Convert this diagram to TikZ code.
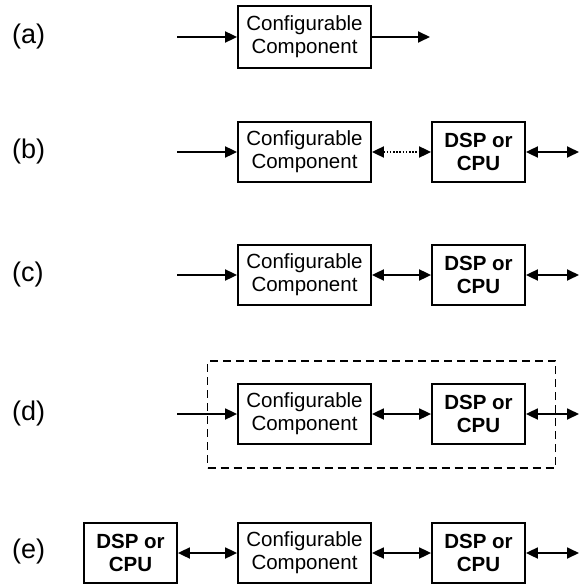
\documentclass[tikz,border=0pt]{standalone}
\usepackage{fontspec}
\setmainfont{Liberation Sans}
\usetikzlibrary{arrows.meta}
\begin{document}
\begin{tikzpicture}[x=1pt,y=-1pt,
  box/.style={draw,line width=1.8pt,inner sep=0pt,align=center,minimum height=60pt,
    font=\fontsize{20.5}{23}\selectfont},
  comp/.style={box,minimum width=133pt},
  dsp/.style={box,minimum width=93pt,font=\fontsize{20.5}{23}\selectfont\bfseries},
  lab/.style={font=\fontsize{27}{30}\selectfont,anchor=west,inner sep=0pt},
  conn/.style={line width=1.8pt,-{Triangle[length=12pt,width=11pt]}},
  biconn/.style={line width=1.8pt,{Triangle[length=12pt,width=11pt]}-{Triangle[length=12pt,width=11pt]}},
  dotconn/.style={biconn,dash pattern=on 1.6pt off 1.6pt},
  frame/.style={draw,line width=1.8pt,dash pattern=on 8pt off 5pt}]
\useasboundingbox (0,0) rectangle (580,585);

% (a)
\node[lab] (la) at (12,37) {(a)};
\node[comp,minimum height=62pt] (ca) at (304.5,37) {Configurable\\Component};
\coordinate (ina) at (177,37);
\coordinate (outa) at (430,37);
\draw[conn] (ina) -- (ca);
\draw[conn] (ca) -- (outa);

% (b)
\node[lab] (lb) at (12,152) {(b)};
\node[comp] (cb) at (304.5,152) {Configurable\\Component};
\node[dsp] (db) at (478.5,152) {DSP or\\CPU};
\coordinate (inb) at (177,152);
\coordinate (outb) at (579,152);
\draw[conn] (inb) -- (cb);
\draw[dotconn] (cb) -- (db);
\draw[biconn] (db) -- (outb);

% (c)
\node[lab] (lc) at (12,275) {(c)};
\node[comp] (cc) at (304.5,275) {Configurable\\Component};
\node[dsp] (dc) at (478.5,275) {DSP or\\CPU};
\coordinate (inc) at (177,275);
\coordinate (outc) at (579,275);
\draw[conn] (inc) -- (cc);
\draw[biconn] (cc) -- (dc);
\draw[biconn] (dc) -- (outc);

% (d)
\node[lab] (ld) at (12,414) {(d)};
\node[frame,minimum width=348pt,minimum height=107pt,inner sep=0pt] (fd) at (381.5,414.5) {};
\node[comp] (cd) at (304.5,414) {Configurable\\Component};
\node[dsp] (dd) at (478.5,414) {DSP or\\CPU};
\coordinate (ind) at (177,414);
\coordinate (outd) at (579,414);
\draw[conn] (ind) -- (cd);
\draw[biconn] (cd) -- (dd);
\draw[biconn] (dd) -- (outd);

% (e)
\node[lab] (le) at (12,552) {(e)};
\node[dsp] (de1) at (130.5,553) {DSP or\\CPU};
\node[comp] (ce) at (304.5,553) {Configurable\\Component};
\node[dsp] (de2) at (478.5,553) {DSP or\\CPU};
\coordinate (oute) at (579,553);
\draw[biconn] (de1) -- (ce);
\draw[biconn] (ce) -- (de2);
\draw[biconn] (de2) -- (oute);
\end{tikzpicture}
\end{document}
